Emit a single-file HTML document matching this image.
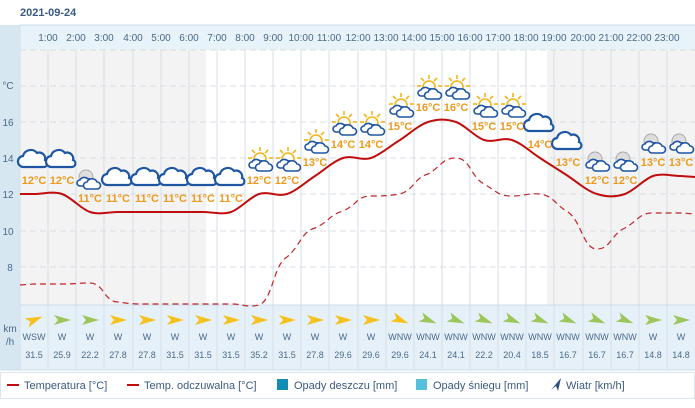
<!DOCTYPE html>
<html><head><meta charset="utf-8"><style>
body{margin:0;background:#fff;}
svg{display:block;font-family:"Liberation Sans",Arial,sans-serif;}
</style></head><body>
<svg width="695" height="408" viewBox="0 0 695 408" xmlns="http://www.w3.org/2000/svg">
<defs>
<g id="cl"><path d="M-10,7 a5.5,5.5 0 0 1 -1,-11 a8,8 0 0 1 14,-3 a6,6 0 0 1 8,7 a3.6,3.6 0 0 1 -1,7 z" fill="#fff" stroke="#1f56a3" stroke-width="2.2"/></g>
<g id="sc"><g stroke="#f2b61c" stroke-width="1.6"><line x1="-2" y1="-16" x2="-2" y2="-12"/><line x1="-10" y1="-13" x2="-7" y2="-10"/><line x1="6" y1="-13" x2="3" y2="-10"/><line x1="-14" y1="-5" x2="-10" y2="-5"/><line x1="7" y1="-5" x2="11" y2="-5"/></g><circle cx="-2" cy="-4" r="6" fill="#fff" stroke="#f2b61c" stroke-width="1.6"/><path d="M-10,5 a3,3 0 0 1 0,-6 a5,5 0 0 1 8,-1 a3,3 0 0 1 2,7 z" fill="#fff" stroke="#1f56a3" stroke-width="1.6"/><path d="M-3,8 a3.5,3.5 0 0 1 0,-7 a5.5,5.5 0 0 1 10,0 a3.5,3.5 0 0 1 0,7 z" fill="#fff" stroke="#1f56a3" stroke-width="1.6"/></g>
<g id="mc"><circle cx="-4" cy="-4" r="7" fill="#ddd" stroke="#aaa" stroke-width="1"/><path d="M-10,5 a3,3 0 0 1 0,-6 a5,5 0 0 1 8,-1 a3,3 0 0 1 2,7 z" fill="#fff" stroke="#1f56a3" stroke-width="1.6"/><path d="M-3,8 a3.5,3.5 0 0 1 0,-7 a5.5,5.5 0 0 1 10,0 a3.5,3.5 0 0 1 0,7 z" fill="#fff" stroke="#1f56a3" stroke-width="1.6"/></g>
<path id="ay" d="M-8,-5 L9,0 L-8,5 L-4,0 z" fill="#f5c21b"/>
<path id="ag" d="M-8,-5 L9,0 L-8,5 L-4,0 z" fill="#9cc55a"/>
</defs>
<text x="20" y="16" font-size="11" font-weight="bold" fill="#3a5a80">2021-09-24</text>
<rect x="0" y="25" width="695" height="345" fill="#fff"/>
<rect x="0" y="25" width="20" height="345" fill="#d6e7f1"/>
<rect x="20" y="25" width="675" height="25" fill="#e8f2f9"/>
<line x1="20" y1="25" x2="695" y2="25" stroke="#c9dcea"/>
<rect x="20" y="50" width="186" height="255" fill="#f3f3f3"/>
<rect x="547" y="50" width="148" height="255" fill="#f3f3f3"/>
<rect x="20" y="305" width="675" height="65" fill="#e6f0f8"/>
<g stroke="#d4dfe9" stroke-width="1">
<line x1="20" y1="25" x2="20" y2="370"/><line x1="48" y1="50" x2="48" y2="370"/><line x1="76" y1="50" x2="76" y2="370"/><line x1="104" y1="50" x2="104" y2="370"/><line x1="133" y1="50" x2="133" y2="370"/><line x1="161" y1="50" x2="161" y2="370"/><line x1="189" y1="50" x2="189" y2="370"/><line x1="217" y1="50" x2="217" y2="370"/><line x1="245" y1="50" x2="245" y2="370"/><line x1="273" y1="50" x2="273" y2="370"/><line x1="301" y1="50" x2="301" y2="370"/><line x1="329" y1="50" x2="329" y2="370"/><line x1="358" y1="50" x2="358" y2="370"/><line x1="386" y1="50" x2="386" y2="370"/><line x1="414" y1="50" x2="414" y2="370"/><line x1="442" y1="50" x2="442" y2="370"/><line x1="470" y1="50" x2="470" y2="370"/><line x1="498" y1="50" x2="498" y2="370"/><line x1="526" y1="50" x2="526" y2="370"/><line x1="554" y1="50" x2="554" y2="370"/><line x1="583" y1="50" x2="583" y2="370"/><line x1="611" y1="50" x2="611" y2="370"/><line x1="639" y1="50" x2="639" y2="370"/><line x1="667" y1="50" x2="667" y2="370"/>
<line x1="20" y1="305" x2="695" y2="305" stroke="#c9dcea"/><line x1="0" y1="370" x2="695" y2="370" stroke="#c9dcea"/>
</g>
<g stroke="#d8dde3" stroke-dasharray="6,4">
<line x1="20" y1="50" x2="695" y2="50"/><line x1="20" y1="86" x2="695" y2="86"/><line x1="20" y1="122" x2="695" y2="122"/><line x1="20" y1="158" x2="695" y2="158"/><line x1="20" y1="194" x2="695" y2="194"/><line x1="20" y1="231" x2="695" y2="231"/><line x1="20" y1="267" x2="695" y2="267"/>
</g>
<g font-size="10" fill="#4a6a8a" text-anchor="middle">
<text x="48" y="41">1:00</text><text x="76" y="41">2:00</text><text x="104" y="41">3:00</text><text x="133" y="41">4:00</text><text x="161" y="41">5:00</text><text x="189" y="41">6:00</text><text x="217" y="41">7:00</text><text x="245" y="41">8:00</text><text x="273" y="41">9:00</text><text x="301" y="41">10:00</text><text x="329" y="41">11:00</text><text x="358" y="41">12:00</text><text x="386" y="41">13:00</text><text x="414" y="41">14:00</text><text x="442" y="41">15:00</text><text x="470" y="41">16:00</text><text x="498" y="41">17:00</text><text x="526" y="41">18:00</text><text x="554" y="41">19:00</text><text x="583" y="41">20:00</text><text x="611" y="41">21:00</text><text x="639" y="41">22:00</text><text x="667" y="41">23:00</text>
</g>
<g font-size="10" fill="#4a6a8a" text-anchor="middle">
<text x="8" y="89">°C</text><text x="8" y="126">16</text><text x="8" y="162">14</text><text x="8" y="198">12</text><text x="8" y="235">10</text><text x="10" y="271">8</text>
<text x="10" y="332">km</text><text x="10" y="345">/h</text>
</g>
<path d="M20,194 L34,194 C43,194 53,191 62,194 C71,197 81,209 90,212 C99,215 109,212 118,212 C128,212 138,212 147,212 C156,212 166,212 175,212 C184,212 194,212 203,212 C212,212 222,215 231,212 C240,209 250,197 259,194 C268,191 278,197 287,194 C296,191 306,182 315,176 C324,170 334,161 343,158 C352,155 362,161 371,158 C380,155 390,146 400,140 C409,134 419,125 428,122 C437,119 447,119 456,122 C465,125 475,137 484,140 C493,143 503,137 512,140 C521,143 531,152 540,158 C549,164 559,170 568,176 C577,182 587,191 597,194 C606,197 616,197 625,194 C634,191 644,179 653,176 C662,173 672,176 681,176 L695,177" fill="none" stroke="#c00d0d" stroke-width="2"/>
<path d="M20,285 L34,284 C48,284 48,284 62,284 C76,284 76,283 90,283 C104,283 104,302 118,302 C132,304 133,304 147,304 C161,304 161,304 175,304 C189,304 189,304 203,304 C217,304 217,304 231,304 C245,304 245,308 259,305 C273,300 273,265 287,257 C301,245 301,232 315,228 C329,222 329,215 343,211 C357,205 357,196 371,196 C385,196 386,196 400,194 C414,190 414,178 428,174 C442,166 442,158 456,158 C470,158 470,176 484,184 C498,192 498,196 512,196 C526,196 526,193 540,194 C554,196 554,204 568,212 C582,222 583,249 597,249 C611,249 611,234 625,228 C639,220 639,213 653,213 C667,213 667,213 681,213 L695,214" fill="none" stroke="#c0262a" stroke-width="1.2" stroke-dasharray="6,4"/>
<use href="#cl" x="34" y="160"/><use href="#cl" x="62" y="160"/><use href="#mc" x="90" y="181"/><use href="#cl" x="118" y="178"/><use href="#cl" x="147" y="178"/><use href="#cl" x="175" y="178"/><use href="#cl" x="203" y="178"/><use href="#cl" x="231" y="178"/>
<use href="#sc" x="262" y="163"/><use href="#sc" x="290" y="163"/><use href="#sc" x="318" y="145"/><use href="#sc" x="346" y="127"/><use href="#sc" x="374" y="127"/><use href="#sc" x="403" y="109"/><use href="#sc" x="431" y="91"/><use href="#sc" x="459" y="91"/><use href="#sc" x="487" y="109"/><use href="#sc" x="515" y="109"/>
<use href="#cl" x="540" y="124"/><use href="#cl" x="568" y="142"/><use href="#mc" x="599" y="163"/><use href="#mc" x="627" y="163"/><use href="#mc" x="655" y="145"/><use href="#mc" x="683" y="145"/>
<g font-size="11" font-weight="bold" fill="#eb9a1e" text-anchor="middle">
<text x="34" y="184">12°C</text><text x="62" y="184">12°C</text><text x="90" y="202">11°C</text><text x="118" y="202">11°C</text><text x="147" y="202">11°C</text><text x="175" y="202">11°C</text><text x="203" y="202">11°C</text><text x="231" y="202">11°C</text><text x="259" y="184">12°C</text><text x="287" y="184">12°C</text><text x="315" y="166">13°C</text><text x="343" y="148">14°C</text><text x="371" y="148">14°C</text><text x="400" y="130">15°C</text><text x="428" y="111">16°C</text><text x="456" y="111">16°C</text><text x="484" y="130">15°C</text><text x="512" y="130">15°C</text><text x="540" y="148">14°C</text><text x="568" y="166">13°C</text><text x="597" y="184">12°C</text><text x="625" y="184">12°C</text><text x="653" y="166">13°C</text><text x="681" y="166">13°C</text>
</g>
<g>
<use href="#ay" transform="translate(34,320) rotate(-22)"/><use href="#ag" x="62" y="320"/><use href="#ag" x="90" y="320"/><use href="#ay" x="118" y="320"/><use href="#ay" x="147" y="320"/><use href="#ay" x="175" y="320"/><use href="#ay" x="203" y="320"/><use href="#ay" x="231" y="320"/><use href="#ay" x="259" y="320"/><use href="#ay" x="287" y="320"/><use href="#ay" x="315" y="320"/><use href="#ay" x="343" y="320"/><use href="#ay" x="371" y="320"/>
<use href="#ay" transform="translate(400,320) rotate(22)"/><use href="#ag" transform="translate(428,320) rotate(22)"/><use href="#ag" transform="translate(456,320) rotate(22)"/><use href="#ag" transform="translate(484,320) rotate(22)"/><use href="#ag" transform="translate(512,320) rotate(22)"/><use href="#ag" transform="translate(540,320) rotate(22)"/><use href="#ag" transform="translate(568,320) rotate(22)"/><use href="#ag" transform="translate(597,320) rotate(22)"/><use href="#ag" transform="translate(625,320) rotate(22)"/><use href="#ag" x="653" y="320"/><use href="#ag" x="681" y="320"/>
</g>
<g font-size="9" fill="#4a6a8a" text-anchor="middle">
<text x="34" y="340">WSW</text><text x="62" y="340">W</text><text x="90" y="340">W</text><text x="118" y="340">W</text><text x="147" y="340">W</text><text x="175" y="340">W</text><text x="203" y="340">W</text><text x="231" y="340">W</text><text x="259" y="340">W</text><text x="287" y="340">W</text><text x="315" y="340">W</text><text x="343" y="340">W</text><text x="371" y="340">W</text><text x="400" y="340">WNW</text><text x="428" y="340">WNW</text><text x="456" y="340">WNW</text><text x="484" y="340">WNW</text><text x="512" y="340">WNW</text><text x="540" y="340">WNW</text><text x="568" y="340">WNW</text><text x="597" y="340">WNW</text><text x="625" y="340">WNW</text><text x="653" y="340">W</text><text x="681" y="340">W</text>
</g>
<g font-size="9" fill="#4a6a8a" text-anchor="middle">
<text x="34" y="358">31.5</text><text x="62" y="358">25.9</text><text x="90" y="358">22.2</text><text x="118" y="358">27.8</text><text x="147" y="358">27.8</text><text x="175" y="358">31.5</text><text x="203" y="358">31.5</text><text x="231" y="358">31.5</text><text x="259" y="358">35.2</text><text x="287" y="358">31.5</text><text x="315" y="358">27.8</text><text x="343" y="358">29.6</text><text x="371" y="358">29.6</text><text x="400" y="358">29.6</text><text x="428" y="358">24.1</text><text x="456" y="358">24.1</text><text x="484" y="358">22.2</text><text x="512" y="358">20.4</text><text x="540" y="358">18.5</text><text x="568" y="358">16.7</text><text x="597" y="358">16.7</text><text x="625" y="358">16.7</text><text x="653" y="358">14.8</text><text x="681" y="358">14.8</text>
</g>
<rect x="0.5" y="372.5" width="694" height="26" fill="#fff" stroke="#dde7ef"/>
<g font-size="11" fill="#3a5a80">
<line x1="7" y1="385" x2="19" y2="385" stroke="#c00d0d" stroke-width="2"/><text x="24" y="389">Temperatura [°C]</text>
<line x1="127" y1="385" x2="139" y2="385" stroke="#c00d0d" stroke-width="2"/><text x="144" y="389">Temp. odczuwalna [°C]</text>
<rect x="277" y="379" width="11" height="11" fill="#118cb5"/><text x="294" y="389">Opady deszczu [mm]</text>
<rect x="416" y="379" width="11" height="11" fill="#56bfdc"/><text x="433" y="389">Opady śniegu [mm]</text>
<path d="M551,390 L561,378 L558,391 L556,386 z" fill="#2a4f80"/><text x="566" y="389">Wiatr [km/h]</text>
</g>
</svg>
</body></html>
